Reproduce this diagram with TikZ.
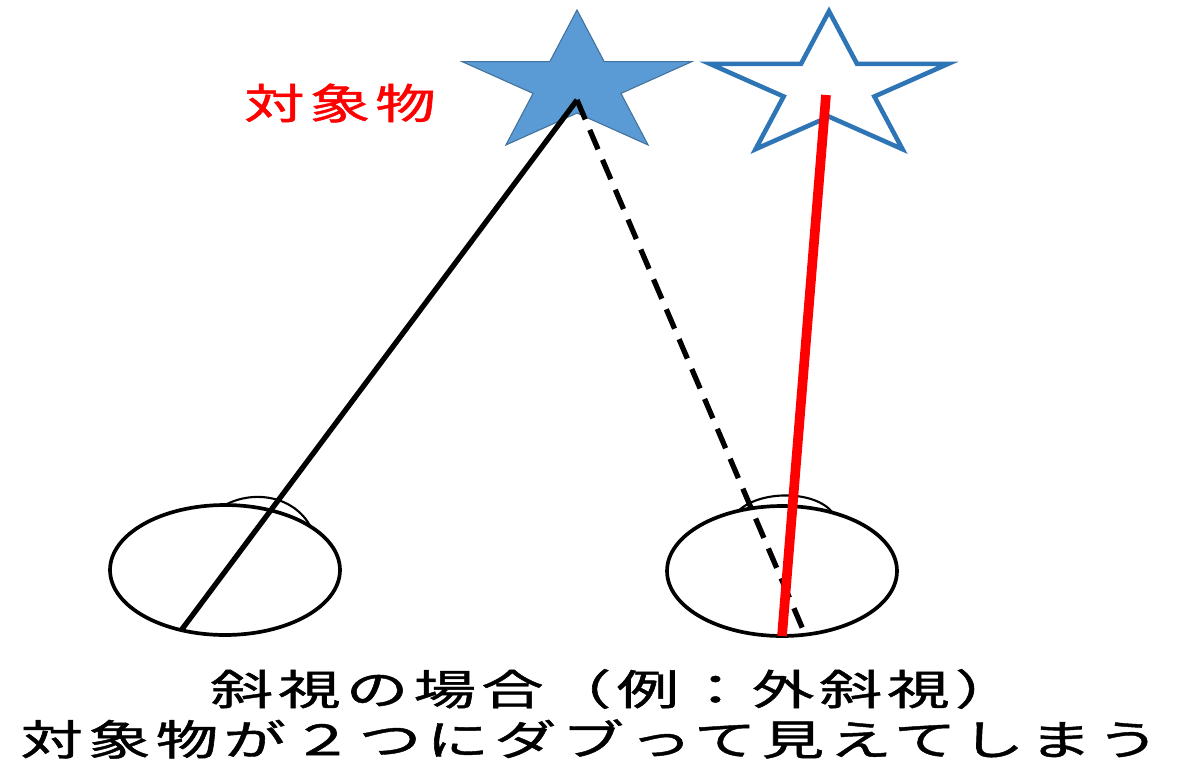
\documentclass[tikz,border=0pt]{standalone}
\usepackage{fontspec}
\setmainfont{Noto Sans CJK JP}[LetterSpace=8.5, FakeBold=1]
\usetikzlibrary{shapes.geometric}
\definecolor{starfill}{HTML}{5B9BD5}
\definecolor{starline}{HTML}{41719C}
\definecolor{ghostline}{HTML}{2E75B6}

\begin{document}
\begin{tikzpicture}[x=0.02cm, y=-0.02cm,
		eye/.style={ellipse, draw, line width=2.1pt, inner sep=0pt, outer sep=0pt, minimum width=4.6cm, minimum height=2.6cm},
		lid/.style={line width=1.2pt},
		sight/.style={line width=3pt},
		caption/.style={font=\fontsize{35.5}{40}\selectfont, yscale=0.67, transform shape, inner sep=0pt}]
	\useasboundingbox (0,0) rectangle (1179,764);

	% the star that is looked at, and the second one that is seen
	\begin{scope}[shift={(577,84.6)}, yscale=0.617]
		\filldraw[fill=starfill, draw=starline, line width=0.6pt] (-90:121) \foreach \a in {0,72,...,288} {-- (\a-90:121) -- (\a-54:46.2)} -- cycle;
	\end{scope}
	\begin{scope}[shift={(829,87.5)}, yscale=0.61]
		\draw[ghostline, line width=2.6pt] (-90:125) \foreach \a in {0,72,...,288} {-- (\a-90:125) -- (\a-54:47.7)} -- cycle;
	\end{scope}
	\coordinate (fix) at (577,100);
	\coordinate (ghost) at (826,95);

	% eyes
	\node[eye] (lefteye) at (225,570) {};
	\node[eye] (righteye) at (782,571) {};
	\draw[lid] (lefteye.north) .. controls (255,489) and (295,497) .. (lefteye.27);
	\draw[lid] (righteye.126) .. controls (760,490) and (815,490) .. (righteye.49);

	\path[sight]
	(fix) edge (lefteye.234)
		edge[dash pattern=on 12pt off 6.5pt] (righteye.290);
	\draw[red, line width=5.5pt] (ghost) -- (righteye.south);

	\node[caption, red, xscale=0.97] (target) at (340,103) {対象物};
	\node[caption] (case) at (614,689) {斜視の場合（例：外斜視）};
	\node[caption] (effect) at (590,739) {対象物が２つにダブって見えてしまう};
\end{tikzpicture}
\end{document}
